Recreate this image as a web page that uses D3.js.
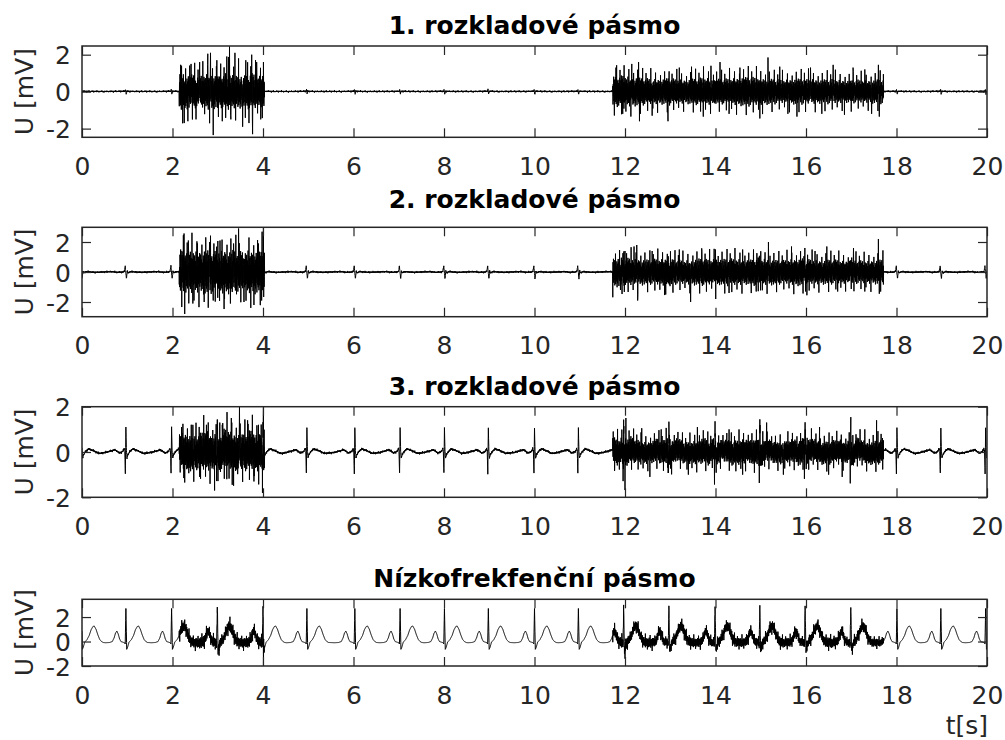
<!DOCTYPE html>
<html lang="cs">
<head>
<meta charset="UTF-8">
<title>Rozkladová pásma</title>
<script src="https://d3js.org/d3.v7.min.js"></script>
<style>
  body { margin: 0; background: #fff; }
  text { font-family: "DejaVu Sans", sans-serif; }
</style>
</head>
<body>
<svg id="drawing_pad" width="1005" height="740"></svg>
<script>
// ---- data ----
const xTicks = [0, 2, 4, 6, 8, 10, 12, 14, 16, 18, 20];
const titles = ["1. rozkladové pásmo", "2. rozkladové pásmo", "3. rozkladové pásmo", "Nízkofrekfenční pásmo"];
const yTicks = [[-2, 0, 2], [-2, 0, 2], [-2, 0, 2], [-2, 0, 2]];
const yDomains = [[-2.47, 2.47], [-2.98, 2.98], [-2, 2], [-2, 3.45]];

// R-peak times [s]
const beatTimes = [-0.01, 0.97, 1.98, 2.99, 4.0, 4.97, 6.03, 7.03, 8.01, 8.98, 10.0,
  10.97, 11.97, 12.97, 13.99, 14.98, 15.98, 16.99, 18.01, 18.98, 19.97];
// noisy segments [s]
const burstEdges = [[2.15, 4.03], [11.73, 17.71]];

// one beat per band: [offset from R (s), value (mV)]
const tplP1 = [[-0.55,0],[-0.3,0.01],[-0.02,0.02],[-0.008,0.1],[0.006,-0.12],[0.02,0.02],[0.2,0.01],[0.55,0]];
const tplP2 = [[-0.55,0],[-0.3,0.02],[-0.2,-0.02],[-0.06,0],[-0.035,0.05],[-0.015,0.38],[0.012,-0.45],
  [0.03,0.05],[0.05,-0.05],[0.1,0.02],[0.3,-0.02],[0.55,0]];
const tplP3 = [[-0.55,-0.05],[-0.45,-0.02],[-0.38,0.02],[-0.3,0.06],[-0.25,0.1],[-0.2,0.04],[-0.15,-0.04],
  [-0.1,-0.02],[-0.06,0.05],[-0.04,0.15],[-0.025,0.05],[-0.012,-0.95],[0,1.05],[0.012,0.05],[0.025,-0.25],
  [0.045,-0.12],[0.08,0],[0.12,0.08],[0.16,0.14],[0.2,0.1],[0.26,0.06],[0.32,0],[0.38,-0.06],[0.45,-0.05],[0.55,-0.05]];
const tplP4 = [[-0.55,-0.1],[-0.45,-0.1],[-0.36,-0.08],[-0.3,0],[-0.26,0.3],[-0.23,0.68],[-0.2,0.86],
  [-0.17,0.62],[-0.14,0.22],[-0.11,0],[-0.07,-0.05],[-0.03,-0.1],[-0.015,-0.2],[0,2.7],[0.018,-0.64],
  [0.035,-0.5],[0.07,-0.05],[0.12,0.15],[0.17,0.5],[0.21,0.95],[0.25,1.22],[0.28,1.27],[0.32,1.0],
  [0.36,0.55],[0.4,0.18],[0.44,0],[0.48,-0.08],[0.55,-0.1]];

// noise amplitude across each burst (evenly spaced over the burst)
const envP1 = [[1.0,1.1,0.95,1.0,0.9,0.95,1.0,1.1,0.95,0.9,1.0,1.1,0.95,1.0,0.9,0.95,1.05,1.0,0.9,0.95],
  [0.85,0.9,0.85,0.8,0.75,0.72,0.75,0.72,0.68,0.75,0.8,0.75,0.72,0.75,0.8,0.85,0.8,0.75,0.72,0.68,0.72,0.75,0.72,0.68,0.72,0.68,0.64,0.68,0.64,0.68,0.72]];
const envP2 = [[1.45,1.6,1.5,1.55,1.45,1.5,1.6,1.5,1.45,1.5,1.55,1.5,1.6,1.5,1.45,1.55,1.5,1.5,1.45,1.5],
  [1.05,1.0,0.97,0.92,0.88,0.92,0.97,0.88,0.84,0.92,0.97,0.88,0.92,0.97,0.92,0.88,0.97,0.92,0.88,0.84,0.92,0.97,0.88,0.84,0.88,0.84,0.8,0.84,0.8,0.84,0.88]];
const envP3 = [[0.8,0.85,0.9,0.85,0.8,0.9,0.95,0.85,0.8,0.85,0.95,1.0,0.9,0.95,0.85,0.9,0.95,0.85,0.9,0.85],
  [0.64,0.6,0.6,0.55,0.51,0.55,0.6,0.55,0.51,0.55,0.6,0.55,0.51,0.55,0.6,0.55,0.6,0.55,0.51,0.51,0.55,0.6,0.55,0.51,0.55,0.51,0.51,0.55,0.51,0.55,0.6]];
const envP4 = [[0.4,0.45,0.45,0.4,0.45,0.5,0.45,0.4,0.45,0.45,0.4,0.45,0.5,0.45,0.4,0.45,0.45,0.4,0.45,0.4],
  [0.4,0.45,0.4,0.4,0.45,0.4,0.35,0.4,0.45,0.4,0.4,0.35,0.4,0.45,0.4,0.4,0.35,0.4,0.45,0.4,0.4,0.35,0.4,0.4,0.45,0.4,0.35,0.4,0.4,0.35,0.3]];
// noise level outside the bursts
const quietLevel = [0.04, 0.05, 0.04, 0];

// biggest single peaks [t, mV]
const spikesP1 = [[2.2,1.4],[2.26,-1.7],[2.34,-1.6],[2.41,1.5],[2.52,-1.5],[2.6,1.6],[2.78,2.05],[2.84,2.1],
  [2.9,-2.35],[2.98,1.7],[3.1,-1.6],[3.2,1.9],[3.26,2.45],[3.29,-1.5],[3.38,2.1],[3.46,1.8],[3.55,-1.9],
  [3.62,1.7],[3.69,-1.7],[3.75,2.0],[3.77,-2.3],[3.86,1.6],[3.95,-1.5],[4.01,1.6],
  [11.8,1.3],[11.95,-1.2],[12.15,1.5],[12.3,1.6],[12.32,-1.6],[12.6,-1.3],[12.95,-1.6],[13.2,1.3],
  [13.47,1.35],[13.73,-1.35],[13.9,1.4],[14.1,1.6],[14.3,-1.2],[14.54,1.3],[14.98,-1.45],[15.16,1.85],
  [15.42,1.35],[15.6,-1.2],[15.8,-1.35],[16.1,1.3],[16.35,-1.2],[16.6,1.45],[16.85,-1.25],[17.04,1.3],
  [17.3,1.2],[17.45,-1.2],[17.6,1.45],[17.62,-1.35]];
const spikesP2 = [[2.18,1.5],[2.24,2.45],[2.27,-2.8],[2.35,2.1],[2.45,-2.1],[2.55,1.9],[2.7,-2.0],[2.82,2.0],
  [2.9,-1.9],[3.05,2.1],[3.15,-1.8],[3.28,-2.1],[3.35,1.9],[3.46,2.9],[3.58,-2.0],[3.69,2.3],[3.8,-2.2],
  [3.9,1.9],[3.97,-1.9],[4.01,2.95],
  [11.9,-1.2],[12.0,1.4],[12.2,1.7],[12.26,1.8],[12.28,-1.9],[12.6,1.4],[12.9,-1.5],[13.2,1.5],[13.45,-2.0],
  [13.7,1.4],[14.0,1.5],[14.3,-1.4],[14.6,1.5],[14.9,-1.3],[15.17,2.0],[15.4,1.4],[15.68,1.7],[16.02,-1.55],
  [16.2,1.4],[16.46,1.7],[16.7,-1.3],[17.05,1.6],[17.3,-1.3],[17.6,2.2],[17.62,-1.45]];
const spikesP3 = [[2.2,1.1],[2.25,-1.15],[2.45,1.2],[2.6,-1.1],[2.75,1.2],[2.93,-1.7],[3.1,1.2],[3.2,-1.2],
  [3.3,1.5],[3.32,-1.45],[3.48,2.0],[3.55,-1.3],[3.66,1.4],[3.8,-1.3],[3.9,1.2],[4.01,2.0],
  [12.0,-1.68],[12.02,1.5],[12.37,1.05],[12.55,-1.1],[12.8,1.0],[13.4,-1.0],[13.6,1.1],[14.3,1.0],
  [14.6,-1.0],[15.13,1.3],[15.5,-1.0],[16.3,1.1],[16.5,-1.0],[16.8,-1.1],[17.3,1.0],[17.56,1.4]];
const spikesP4 = [[4.01,-2.0],[12.0,-1.4]];

// fixed noise shape, reused inside the bursts
const texture = [
  0.55,-0.72,0.31,-0.48,0.86,-0.25,0.64,-0.91,0.42,-0.37,
  1.45,-0.58,0.22,-0.69,0.78,0.35,-0.83,0.47,-0.29,0.93,
  -0.61,0.18,-1.52,0.74,-0.44,0.58,-0.2,0.88,-0.66,0.39,
  -0.79,0.27,1.62,-0.53,0.45,-0.97,0.62,-0.33,0.71,-0.15,
  0.5,-0.87,0.36,-0.6,-0.24,0.82,-0.46,1.3,-0.71,0.28,
  -0.55,0.67,-0.38,0.95,-1.38,0.41,-0.19,0.76,-0.63,0.52,
  -0.31,0.89,-0.74,0.23,-0.49,0.6,0.32,-0.9,1.7,-0.43,
  0.57,-0.68,0.34,-0.26,0.81,-0.57,0.44,-1.25,0.66,-0.35,
  0.73,-0.52,0.17,-0.8,0.49,-0.41,0.92,-0.62,0.26,-0.73,
  1.4,-0.47,0.38,-0.94,0.59,-0.21,0.69,-0.56,0.3,-1.6,
  0.63,-0.39,0.85,-0.67,0.21,-0.5,0.77,-0.28,0.46,-0.84,
  0.54,-0.34,1.2,-0.76,0.4,-0.6,0.29,-0.45,0.7,-0.98];

const templates = [tplP1, tplP2, tplP3, tplP4];
const envelopes = [envP1, envP2, envP3, envP4];
const spikes = [spikesP1, spikesP2, spikesP3, spikesP4];
const texOffsets = [0, 37, 71, 13];

// ---- layout ----
const layout = [
  {top: 46, bottom: 137.3, titleY: 34},
  {top: 227.3, bottom: 316.7, titleY: 208.3},
  {top: 406.7, bottom: 497.3, titleY: 395},
  {top: 599.3, bottom: 666, titleY: 587}
];
const left = 82, right = 987, dt = 0.005;
const axisColor = "#262626";

const svg = d3.select("#drawing_pad");
const x = d3.scaleLinear().domain([0, 20]).range([left, right]);

// put a copy of the beat template at every R-peak
function tile(tpl) {
  const pts = [];
  beatTimes.forEach(function(r, k) {
    const lo = k > 0 ? (beatTimes[k - 1] + r) / 2 : -1;
    const hi = k < beatTimes.length - 1 ? (r + beatTimes[k + 1]) / 2 : 21;
    tpl.forEach(function(d) {
      const t = r + d[0];
      if (t >= lo && t < hi) pts.push([t, d[1]]);
    });
  });
  return pts;
}

function buildSeries(i) {
  const tplPts = tile(templates[i]);
  const base = d3.scaleLinear().domain(tplPts.map(d => d[0])).range(tplPts.map(d => d[1]));
  const envs = burstEdges.map(function(e, b) {
    const vals = envelopes[i][b];
    return d3.scaleLinear()
      .domain(vals.map((v, k) => e[0] + k * (e[1] - e[0]) / (vals.length - 1)))
      .range(vals);
  });
  let ts = d3.range(0, 20 + dt / 2, dt).concat(tplPts.map(d => d[0]).filter(t => t >= 0 && t <= 20));
  ts.sort((a, b) => a - b);
  const pts = ts.map(function(t, j) {
    let amp = quietLevel[i];
    burstEdges.forEach(function(e, b) { if (t >= e[0] && t <= e[1]) amp = envs[b](t); });
    return [t, base(t) + amp * texture[(j + texOffsets[i]) % texture.length]];
  });
  const bis = d3.bisector(d => d[0]);
  spikes[i].forEach(function(s) {
    const j = bis.center(pts, s[0]);
    pts[j][1] = s[1];
  });
  return pts;
}

layout.forEach(function(p, i) {
  const y = d3.scaleLinear().domain(yDomains[i]).range([p.bottom, p.top]);
  const g = svg.append("g");

  svg.append("clipPath").attr("id", "clip" + i)
    .append("rect").attr("x", left).attr("y", p.top)
    .attr("width", right - left).attr("height", p.bottom - p.top);

  g.append("path")
    .datum(buildSeries(i))
    .attr("clip-path", "url(#clip" + i + ")")
    .attr("fill", "none")
    .attr("stroke", "#000")
    .attr("stroke-width", 1)
    .attr("stroke-linejoin", "round")
    .attr("d", d3.line().x(d => x(d[0])).y(d => y(d[1])));

  const bottomAx = g.append("g").attr("transform", "translate(0," + p.bottom + ")")
    .call(d3.axisBottom(x).tickValues(xTicks).tickSize(-9).tickFormat(d => String(d)));
  bottomAx.selectAll("text").attr("y", 37.7).attr("dy", 0);
  g.append("g").attr("transform", "translate(0," + p.top + ")")
    .call(d3.axisTop(x).tickValues(xTicks).tickSize(-9).tickFormat(""));
  g.append("g").attr("transform", "translate(" + left + ",0)")
    .call(d3.axisLeft(y).tickValues(yTicks[i]).tickSize(-9).tickPadding(11).tickFormat(d => String(d)))
    .selectAll("text").attr("dy", "0.36em");
  g.append("g").attr("transform", "translate(" + right + ",0)")
    .call(d3.axisRight(y).tickValues(yTicks[i]).tickSize(-9).tickFormat(""));

  g.selectAll(".domain").remove();
  g.selectAll(".tick line").attr("stroke", axisColor).attr("stroke-width", 1.2);
  g.selectAll(".tick text").attr("fill", axisColor).style("font-size", "25px")
    .style("font-family", "'DejaVu Sans', sans-serif");

  g.append("rect")
    .attr("x", left).attr("y", p.top)
    .attr("width", right - left).attr("height", p.bottom - p.top)
    .attr("fill", "none").attr("stroke", axisColor).attr("stroke-width", 1.5);

  g.append("text")
    .attr("x", (left + right) / 2).attr("y", p.titleY)
    .attr("text-anchor", "middle")
    .style("font-size", "25px").style("font-weight", "bold")
    .attr("fill", "#000")
    .text(titles[i]);

  g.append("text")
    .attr("transform", "translate(33," + (p.top + p.bottom) / 2 + ") rotate(-90)")
    .attr("text-anchor", "middle")
    .style("font-size", "25px")
    .attr("fill", axisColor)
    .text("U [mV]");
});

svg.append("text")
  .attr("x", 988).attr("y", 734)
  .attr("text-anchor", "end")
  .style("font-size", "25px")
  .attr("fill", axisColor)
  .text("t[s]");
</script>
</body>
</html>
